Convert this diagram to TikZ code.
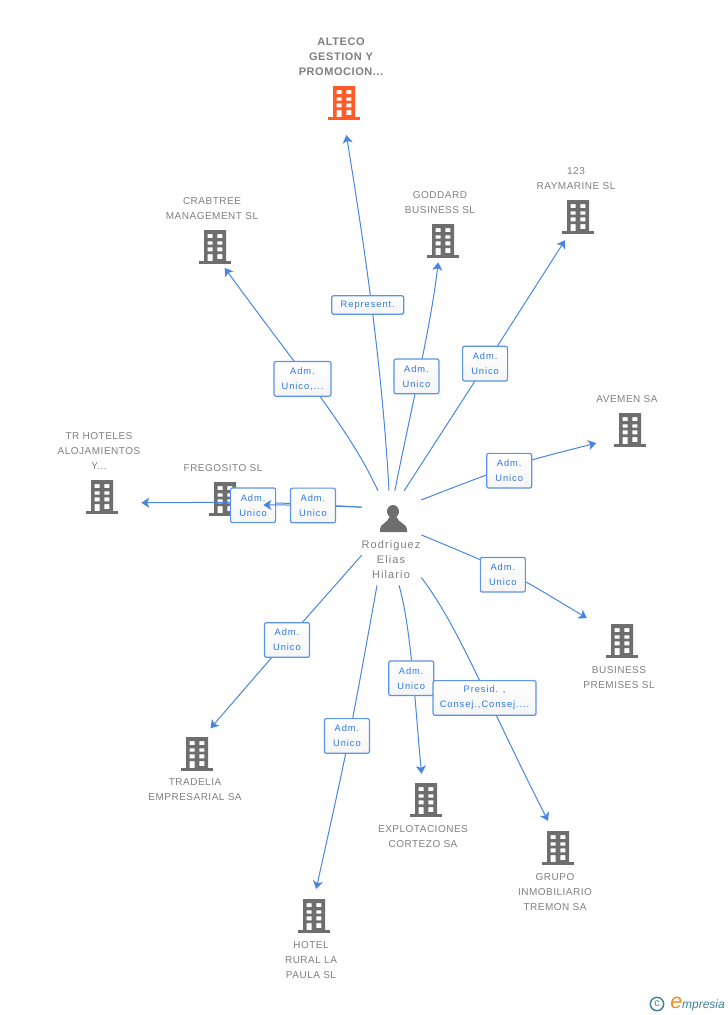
\documentclass[tikz,border=0pt]{standalone}
\usepackage{fontspec}
\setmainfont{Liberation Sans}
\newfontfamily\namefont{Liberation Sans}[LetterSpace=5]
\newfontfamily\boxfont{Liberation Sans}[LetterSpace=10]
\usepackage{tikz}
\usetikzlibrary{arrows.meta}
\definecolor{linkblue}{HTML}{4A86E0}
\definecolor{boxblue}{HTML}{5B93E6}
\definecolor{textblue}{HTML}{2F78DC}
\definecolor{icongray}{HTML}{6E6E6E}
\definecolor{namegray}{HTML}{7F7F7F}
\definecolor{mainorange}{HTML}{FF5A28}
\definecolor{logoteal}{HTML}{3F7F9A}
\definecolor{logoorange}{HTML}{F08A1D}
\newcommand{\buildingshape}[1]{%
\fill[#1,even odd rule] (-11,-17) rectangle (11,14.3) (-7.3,-13) rectangle (-2.3,-9) (2.3,-13) rectangle (7.3,-9)
 (-7.3,-5.7) rectangle (-2.3,-2.3) (2.3,-5.7) rectangle (7.3,-2.3) (-7.3,0.3) rectangle (-2.3,4.3) (2.3,0.3) rectangle (7.3,4.3)
 (-7.3,7) rectangle (-2.3,14.3) (2.3,7) rectangle (7.3,12);
\fill[#1] (-16,14.3) rectangle (16,16.7);}
\tikzstyle{building}[icongray]=[rectangle,minimum width=24pt,minimum height=25.5pt,inner sep=0pt,path picture={\buildingshape{#1}}]
\tikzstyle{person}=[rectangle,minimum width=44.25pt,minimum height=70.5pt,inner sep=0pt,path picture={
\fill[icongray] (1.5,-26.5) ellipse (6 and 6.5);
\fill[icongray] (-11.5,-6) -- (15.5,-6) -- (15.5,-9) .. controls (15.5,-14) and (7,-15) .. (5,-21) -- (-2,-21) .. controls (-4,-15) and (-11.5,-14) .. (-11.5,-9) -- cycle;}]
\tikzstyle{coname}=[text=namegray,align=center,inner sep=0pt,font=\namefont\fontsize{7.5}{11.25}\selectfont]
\tikzstyle{tag}=[draw=boxblue,line width=0.9pt,rounded corners=1.5pt,top color=white,bottom color=black!4,text=textblue,align=center,inner sep=0pt,minimum height=26pt,font=\boxfont\fontsize{7}{11.25}\selectfont]
\tikzstyle{link}=[draw=linkblue,line width=0.75pt,-{Stealth[length=6pt,width=7.5pt,inset=1.5pt]}]

\begin{document}
\begin{tikzpicture}[x=0.75pt,y=-0.75pt]
\useasboundingbox (0,0) rectangle (728,1015);
% companies
\node[building=mainorange] (alteco) at (344,103) {};
\node[building] (crabtree) at (215,247) {};
\node[building] (goddard) at (443,241) {};
\node[building] (raymarine) at (578,217) {};
\node[building] (avemen) at (630,430) {};
\node[building] (trhoteles) at (102,497) {};
\node[building] (fregosito) at (225,499) {};
\node[building] (business) at (622,641) {};
\node[building] (tradelia) at (197,754) {};
\node[building] (explotaciones) at (426,800) {};
\node[building] (grupo) at (558,848) {};
\node[building] (hotel) at (314,916) {};
\node[person] (rodriguez) at (391.5,538) {};
% names
\node[coname,font=\namefont\bfseries\fontsize{8.25}{11.25}\selectfont] (alteconame) at (341,57) {ALTECO\\GESTION Y\\PROMOCION...};
\node[coname] (crabtreename) at (212,208.5) {CRABTREE\\MANAGEMENT SL};
\node[coname] (goddardname) at (440,202.5) {GODDARD\\BUSINESS SL};
\node[coname] (raymarinename) at (576,178.5) {123\\RAYMARINE SL};
\node[coname] (avemenname) at (627,399) {AVEMEN SA};
\node[coname] (trhotelesname) at (99,451) {TR HOTELES\\ALOJAMIENTOS\\Y...};
\node[coname] (fregositoname) at (223,468) {FREGOSITO SL};
\node[coname] (businessname) at (619,678) {BUSINESS\\PREMISES SL};
\node[coname] (tradelianame) at (195,790) {TRADELIA\\EMPRESARIAL SA};
\node[coname] (explotacionesname) at (423,837) {EXPLOTACIONES\\CORTEZO SA};
\node[coname] (gruponame) at (555,892) {GRUPO\\INMOBILIARIO\\TREMON SA};
\node[coname] (hotelname) at (311,960) {HOTEL\\RURAL LA\\PAULA SL};
\node[coname,font=\boxfont\fontsize{8.25}{11.25}\selectfont] (rodriguezname) at (391,560) {Rodriguez\\Elias\\Hilario};
% links
\draw[link,shorten >=3.4pt] (rodriguez.106) .. controls (350,430) and (303,375) .. (crabtree.-68) node[tag,pos=.58,xshift=-3.5pt,minimum width=42.75pt] (crabtreetag) {Adm.\\Unico,...};
\draw[link,shorten >=11.2pt] (rodriguez.93) .. controls (382,365) and (365,250) .. (alteco.south) node[tag,pos=.5,xshift=-3pt,yshift=1.5pt,minimum width=54pt,minimum height=14pt] (altecotag) {Represent.};
\draw[link,shorten >=3pt] (rodriguez.86) .. controls (411,410) and (431,325) .. (goddard.-104) node[tag,pos=.47,xshift=-1.5pt,minimum width=33.75pt] (goddardtag) {Adm.\\Unico};
\draw[link,shorten >=5.2pt] (rodriguez.75) .. controls (486,364) .. (raymarine.-118) node[tag,pos=.5,xshift=-.75pt,minimum width=33.75pt] (raymarinetag) {Adm.\\Unico};
\draw[link,shorten >=13.5pt] (rodriguez.52) .. controls (514,464) .. (avemen.208) node[tag,pos=.47,xshift=-1pt,yshift=-3pt,minimum width=33.75pt] (avementag) {Adm.\\Unico};
\draw[link,shorten >=16.5pt] (rodriguez.6) .. controls (511.5,572.4) .. (business.145) node[tag,pos=.47,xshift=-3.75pt,yshift=-1.5pt,minimum width=33.75pt] (businesstag) {Adm.\\Unico};
\draw[link,shorten >=6.75pt] (rodriguez.-81) .. controls (412,630) and (416,720) .. (explotaciones.101) node[tag,pos=.5,xshift=-1.5pt,yshift=-.75pt,minimum width=33.75pt] (explotacionestag) {Adm.\\Unico};
\draw[link,shorten >=8.25pt] (rodriguez.-53.6) .. controls (458,625) and (489,705) .. (grupo.106) node[tag,pos=.6,xshift=-3.75pt,yshift=2.25pt,minimum width=77.25pt] (grupotag) {Presid. ,\\Consej.,Consej....};
\draw[link,shorten >=7.5pt] (rodriguez.-107) .. controls (348.8,742) .. (hotel.north) node[tag,pos=.48,xshift=-1.5pt,yshift=1pt,minimum width=33.75pt] (hoteltag) {Adm.\\Unico};
\draw[link,shorten >=8.25pt] (rodriguez.-150) .. controls (288.5,638) .. (tradelia.70) node[tag,pos=.5,minimum width=33.75pt] (tradeliatag) {Adm.\\Unico};
\draw[link,shorten >=17.25pt] (rodriguez.134.5) .. controls (270,502) .. (trhoteles.-20) node[tag,pos=.55,yshift=-2pt,minimum width=33.75pt] (trhotelestag) {Adm.\\Unico};
\draw[link,shorten >=16.5pt] (rodriguez.134.5) .. controls (304.7,505) .. (fregosito.-20) node[tag,pos=.4,minimum width=33.75pt] (fregositotag) {Adm.\\Unico};
% logo
\node[circle,draw=logoteal,line width=1.1pt,text=logoteal,inner sep=0pt,minimum size=10pt,font=\fontsize{8}{8}\selectfont] (copyrightmark) at (657,1004) {c};
\node[inner sep=0pt,text=logoteal,anchor=base west,font=\itshape\fontsize{9}{10}\selectfont] (empresia) at (670,1008) {{\color{logoorange}\fontsize{16}{10}\selectfont e}mpresia};
\end{tikzpicture}
\end{document}
